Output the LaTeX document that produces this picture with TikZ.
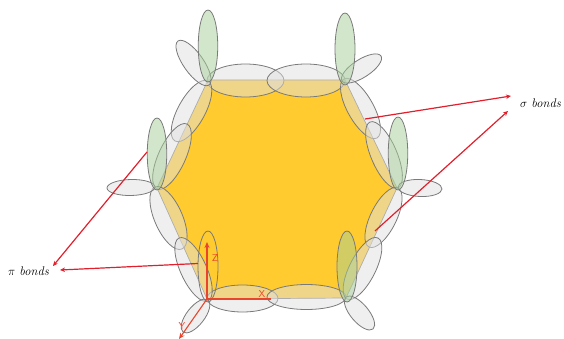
\documentclass[tikz,border=0pt]{standalone}
\usetikzlibrary{shapes.geometric,arrows.meta}
\definecolor{hexfill}{HTML}{FFCB2F}
\definecolor{orbline}{HTML}{7A7A7A}
\definecolor{arrowred}{HTML}{E0202C}
\definecolor{axisred}{HTML}{E8452C}
\definecolor{grayfill}{HTML}{E0E0E0}
\definecolor{greenfill}{HTML}{A5CE97}
\tikzset{
  orbbase/.style={shape=ellipse,draw=orbline,line width=0.8pt,inner sep=0pt,outer sep=0pt},
  sigmaorb/.style={orbbase,fill=grayfill,fill opacity=0.5},
  greenorb/.style={orbbase,fill=greenfill,fill opacity=0.5},
  openorb/.style={orbbase},
  redarrow/.style={draw=arrowred,line width=1.2pt,-{Stealth[length=5pt,width=4.5pt]}},
  axisarrow/.style={draw=axisred,line width=1.1pt,-{Stealth[length=6pt,width=5pt]}},
  bondlabel/.style={inner sep=0pt,font=\fontsize{12.5}{14}\selectfont,text=black},
  axislabel/.style={inner sep=0pt,font=\sffamily\fontsize{10}{12}\selectfont,text=axisred}
}
\newcommand{\orb}[7]{%
  \pgfmathsetmacro{\orbang}{atan2(-(#5-#3),#4-#2)}%
  \pgfmathsetmacro{\orblen}{veclen(#4-#2,#5-#3)}%
  \pgfmathsetmacro{\orbcx}{(#2+#4)/2}%
  \pgfmathsetmacro{\orbcy}{(#3+#5)/2}%
  \node[#7,minimum width=\orblen pt,minimum height=#6pt,rotate=\orbang] (#1) at (\orbcx,\orbcy) {};%
}
\begin{document}
\begin{tikzpicture}[x=1pt,y=-1pt]
\useasboundingbox (0,0) rectangle (564,339);
\draw[draw=orbline,line width=0.7pt,fill=hexfill] (208,80) -- (345,80) -- (397,188) -- (346,298) -- (207,299) -- (157,188) -- cycle;
% top and bottom bonds
\orb{topL}{207}{80.5}{284}{80.5}{33}{sigmaorb}
\orb{topR}{267}{80.5}{345}{80.5}{33}{sigmaorb}
\orb{botL}{207}{298.5}{278}{298.5}{27}{sigmaorb}
\orb{botR}{267}{297}{346}{297}{25}{sigmaorb}
% side bonds
\orb{ulA}{208}{81}{175}{141}{27}{sigmaorb}
\orb{ulB}{187}{124}{157}{189}{27}{sigmaorb}
\orb{llA}{155}{187}{182}{249}{28}{sigmaorb}
\orb{llB}{179}{238}{208}{301}{26}{sigmaorb}
\orb{urA}{344}{79}{377}{138}{26}{sigmaorb}
\orb{urB}{370}{122}{398}{188}{26}{sigmaorb}
\orb{lrA}{398}{188}{369}{247}{26}{sigmaorb}
\orb{lrB}{378}{238}{347}{299}{26}{sigmaorb}
% outward lobes
\orb{outUL}{178}{41}{209}{85}{20}{sigmaorb}
\orb{outUR}{342}{81}{381}{56}{18}{sigmaorb}
\orb{outL}{107}{188}{155}{187}{16}{sigmaorb}
\orb{outR}{398}{187}{442}{189}{17}{sigmaorb}
\orb{outDL}{208}{300}{183}{332}{18}{sigmaorb}
\orb{outDR}{346}{297}{373}{329}{18}{sigmaorb}
% perpendicular lobes
\orb{pzA}{208}{10}{208}{82}{19.5}{greenorb}
\orb{pzB}{345}{13}{345}{85}{20}{greenorb}
\orb{pzC}{157}{118}{157}{190}{19.5}{greenorb}
\orb{pzD}{398}{117}{398}{190}{19.5}{greenorb}
\orb{pzE}{347}{231}{347}{302}{20}{greenorb}
\orb{pzF}{208}{231}{208}{302}{20}{openorb}
% leader arrows
\coordinate (sigA) at (365,119);
\coordinate (sigAend) at (511,96);
\coordinate (sigB) at (375,231);
\coordinate (sigBend) at (508,111);
\coordinate (piA) at (147,152);
\coordinate (piAend) at (53,266);
\coordinate (piB) at (198,263.5);
\coordinate (piBend) at (60,270);
\draw[redarrow] (sigA) -- (sigAend);
\draw[redarrow] (sigB) -- (sigBend);
\draw[redarrow] (piA) -- (piAend);
\draw[redarrow] (piB) -- (piBend);
% axes
\coordinate (origin) at (207,299);
\coordinate (zEnd) at (207,242);
\coordinate (xEnd) at (271,299);
\coordinate (yEnd) at (179,339);
\draw[axisarrow] (origin) -- (zEnd);
\draw[axisarrow,-] (origin) -- (xEnd);
\draw[axisarrow] (origin) -- (yEnd);
\node[axislabel] (zLab) at (215,258) {Z};
\node[axislabel] (xLab) at (262,294) {X};
\node[axislabel] (yLab) at (182,326) {Y};
% labels
\node[bondlabel,anchor=west] (sigmaLab) at (520,103) {$\sigma$ \textit{bonds}};
\node[bondlabel,anchor=west] (piLab) at (8,271) {$\pi$ \textit{bonds}};
\end{tikzpicture}
\end{document}
